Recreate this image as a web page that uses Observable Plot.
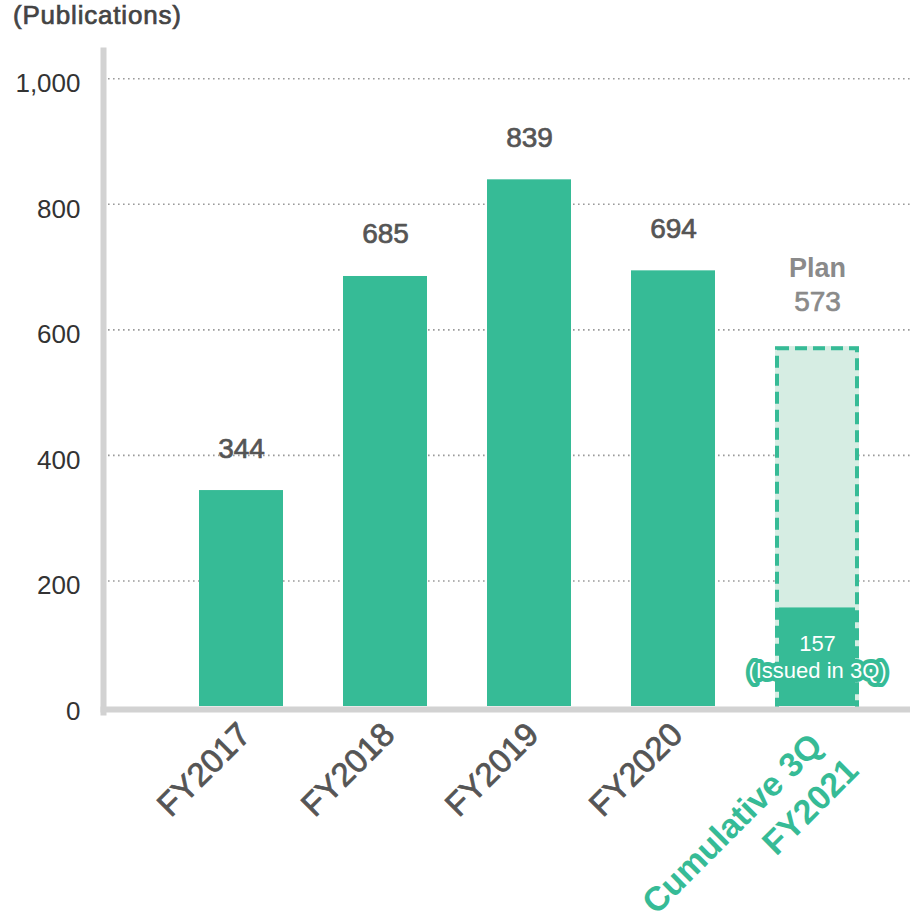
<!DOCTYPE html>
<html><head><meta charset="utf-8">
<script src="https://cdn.jsdelivr.net/npm/d3@7"></script>
<script src="https://cdn.jsdelivr.net/npm/@observablehq/plot@0.6"></script>
<style>
body{margin:0;background:#fff}
#title{height:40px;line-height:44px;padding-left:13px;font:normal 26px "Liberation Sans",Arial,sans-serif;color:#444;-webkit-text-stroke:0.7px #444;letter-spacing:0.8px}
svg{display:block}
</style>
</head><body>
<div id="title"></div>
<div id="chart"></div>
<script>
// ---- data ----
const categories = ["FY2017", "FY2018", "FY2019", "FY2020", "FY2021"];
const values = [344, 685, 839, 694, 157];
const planCategory = "FY2021";
const planValue = 573;
const planLabel = "Plan";
const issuedLabel = "(Issued in 3Q)";
const xTickLabels = ["FY2017", "FY2018", "FY2019", "FY2020", ""];
const lastLabelLines = ["Cumulative 3Q", "FY2021"];
const yTicks = [0, 200, 400, 600, 800, 1000];
const gridTicks = [200, 400, 600, 800, 1000];
const unitLabel = "(Publications)";

const green = "#36bb96";
const light = "#d6ede3";
const font = '"Liberation Sans", Arial, sans-serif';

document.getElementById("title").textContent = unitLabel;

const rows = categories.map((c, i) => ({category: c, value: values[i], label: xTickLabels[i]}));
const fullYears = rows.slice(0, 4);
const current = rows.slice(4);
const plan = [{category: planCategory, value: planValue}];

const chart = Plot.plot({
  width: 910,
  height: 881,
  marginTop: 10,
  marginBottom: 215,
  marginLeft: 103,
  marginRight: 0,
  style: {fontFamily: font, background: "white"},
  x: {domain: categories, range: [169, 889], paddingInner: 0.417, paddingOuter: 0.2085, axis: null},
  y: {domain: [0, 1045], axis: null},
  marks: [
    Plot.ruleY(gridTicks, {stroke: "#9a9a9a", strokeWidth: 1.6, strokeDasharray: "1.6,3.4"}),
    Plot.barY(plan, {x: "category", y: "value", fill: light}),
    Plot.barY(rows, {x: "category", y: "value", fill: green}),
    Plot.barY(plan, {x: "category", y: "value", fill: "none", stroke: light, strokeWidth: 4, insetLeft: 2, insetRight: 2, insetTop: 2, insetBottom: -4}),
    Plot.barY(plan, {x: "category", y: "value", fill: "none", stroke: green, strokeWidth: 4, strokeDasharray: "12,6", insetLeft: 2, insetRight: 2, insetTop: 2, insetBottom: -4}),
    Plot.frame({anchor: "bottom", stroke: "#d2d2d2", strokeWidth: 6, insetBottom: -3}),
    Plot.frame({anchor: "left", stroke: "#d2d2d2", strokeWidth: 6, insetBottom: -6}),
    Plot.axisY(yTicks, {tickSize: 0, tickPadding: 23, fontSize: 26, fill: "#333", stroke: "#333", strokeWidth: 0.7, dy: 5, tickFormat: d3.format(","), label: null}),
    // value labels
    Plot.text(fullYears, {x: "category", y: "value", text: d => String(d.value), dy: -42, fontSize: 28, fill: "#555", stroke: "#555", strokeWidth: 0.7}),
    Plot.text(plan, {x: "category", y: "value", text: () => planLabel, dy: -78, fontSize: 27, fontWeight: "bold", fill: "#8a8a8a"}),
    Plot.text(plan, {x: "category", y: "value", text: d => String(d.value), dy: -45, fontSize: 28, fill: "#8a8a8a", stroke: "#8a8a8a", strokeWidth: 0.7}),
    Plot.text(current, {x: "category", y: "value", text: d => d.value + "\n" + issuedLabel, dy: 48, lineHeight: 1.23, fontSize: 22, fill: "white", stroke: green, strokeWidth: 8}),
    // x labels
    Plot.text(fullYears, {x: "category", text: "label", frameAnchor: "bottom", rotate: -45, textAnchor: "end", dx: 11, dy: 30, fontSize: 33, fill: "#555", stroke: "#555", strokeWidth: 0.8}),
    Plot.text(current, {x: "category", text: () => lastLabelLines[0], frameAnchor: "bottom", rotate: -45, textAnchor: "end", dx: 7, dy: 41, fontSize: 34, fontWeight: "bold", fill: green}),
    Plot.text(current, {x: "category", text: () => lastLabelLines[1], frameAnchor: "bottom", rotate: -45, textAnchor: "end", dx: 43, dy: 66, fontSize: 34, fontWeight: "bold", fill: green})
  ]
});
document.getElementById("chart").appendChild(chart);
</script>
</body></html>
